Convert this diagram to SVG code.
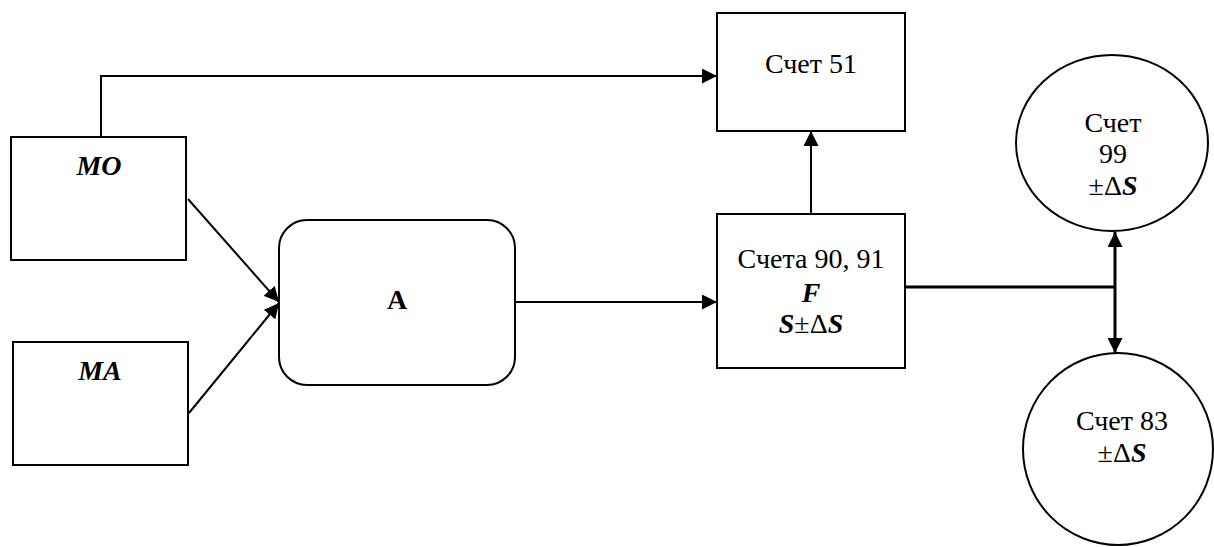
<svg xmlns="http://www.w3.org/2000/svg" width="1214" height="547" viewBox="0 0 1214 547">
<defs>
<marker id="ah" viewBox="0 0 15 15" refX="15" refY="7.5" markerWidth="15" markerHeight="15" markerUnits="userSpaceOnUse" orient="auto-start-reverse">
<path d="M0,0 L15,7.5 L0,15 Z" fill="#000"/>
</marker>
</defs>
<g id="connectors" fill="none" stroke="#000" stroke-width="2">
<polyline points="101,137 101,76 717,76" marker-end="url(#ah)"/>
<line x1="188" y1="199" x2="279" y2="302" marker-end="url(#ah)"/>
<line x1="189" y1="413" x2="279" y2="303" marker-end="url(#ah)"/>
<line x1="515" y1="302" x2="717" y2="302" marker-end="url(#ah)"/>
<line x1="811" y1="214" x2="811" y2="131" marker-end="url(#ah)"/>
<line x1="905" y1="287" x2="1115" y2="287" stroke-width="3"/>
<line x1="1115" y1="232" x2="1115" y2="353" stroke-width="3" marker-start="url(#ah)" marker-end="url(#ah)"/>
</g>
<g id="mo">
<rect x="11" y="137" width="175" height="123" fill="#fff" stroke="#000" stroke-width="2"/>
<text x="99" y="175" font-family="Liberation Serif" font-size="28" font-weight="bold" font-style="italic" text-anchor="middle">MO</text>
</g>
<g id="ma">
<rect x="13" y="342" width="175" height="123" fill="#fff" stroke="#000" stroke-width="2"/>
<text x="100" y="380" font-family="Liberation Serif" font-size="28" font-weight="bold" font-style="italic" text-anchor="middle">MA</text>
</g>
<g id="a">
<rect x="279" y="220" width="236" height="165" rx="28" ry="28" fill="#fff" stroke="#000" stroke-width="2"/>
<text x="397" y="309" font-family="Liberation Serif" font-size="28" font-weight="bold" text-anchor="middle">A</text>
</g>
<g id="schet51">
<rect x="717" y="13" width="188" height="118" fill="#fff" stroke="#000" stroke-width="2"/>
<text x="811" y="73" font-family="Liberation Serif" font-size="28" text-anchor="middle">Счет 51</text>
</g>
<g id="scheta9091">
<rect x="717" y="214" width="188" height="154" fill="#fff" stroke="#000" stroke-width="2"/>
<text x="811" y="268" font-family="Liberation Serif" font-size="28" text-anchor="middle">Счета 90, 91</text>
<text x="811" y="302" font-family="Liberation Serif" font-size="28" font-weight="bold" font-style="italic" text-anchor="middle">F</text>
<text x="811" y="333" font-family="Liberation Serif" font-size="28" text-anchor="middle"><tspan font-weight="bold" font-style="italic">S</tspan>±Δ<tspan font-weight="bold" font-style="italic">S</tspan></text>
</g>
<g id="schet99">
<ellipse cx="1112" cy="143" rx="96" ry="88" fill="#fff" stroke="#000" stroke-width="2"/>
<text x="1113" y="132" font-family="Liberation Serif" font-size="28" text-anchor="middle">Счет</text>
<text x="1113" y="163" font-family="Liberation Serif" font-size="28" text-anchor="middle">99</text>
<text x="1113" y="195" font-family="Liberation Serif" font-size="28" text-anchor="middle">±Δ<tspan font-weight="bold" font-style="italic">S</tspan></text>
</g>
<g id="schet83">
<ellipse cx="1118" cy="449" rx="95" ry="96" fill="#fff" stroke="#000" stroke-width="2"/>
<text x="1122" y="430" font-family="Liberation Serif" font-size="28" text-anchor="middle">Счет 83</text>
<text x="1122" y="462" font-family="Liberation Serif" font-size="28" text-anchor="middle">±Δ<tspan font-weight="bold" font-style="italic">S</tspan></text>
</g>
</svg>
